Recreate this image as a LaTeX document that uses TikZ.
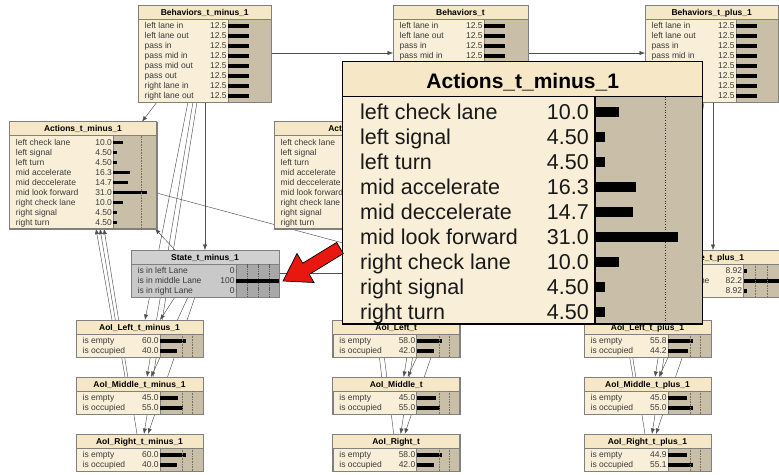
\documentclass[tikz,border=0pt]{standalone}
\usepackage{fontspec}
\setmainfont{Liberation Sans}
\usetikzlibrary{arrows.meta,calc}
\pgfdeclarelayer{bg}
\pgfdeclarelayer{paper}
\pgfsetlayers{paper,bg,main}
\definecolor{titlebg}{HTML}{F6E8C6}
\definecolor{bodybg}{HTML}{F9EFD9}
\definecolor{barbg}{HTML}{C9BFA8}
\definecolor{boxline}{HTML}{808080}
\definecolor{txt}{HTML}{3A3A3A}
\definecolor{stitle}{HTML}{D0D0D0}
\definecolor{sbody}{HTML}{C9C9C9}
\definecolor{sbar}{HTML}{A8A8A8}
\definecolor{edgecol}{HTML}{505050}
\definecolor{redarrow}{HTML}{E8170F}
\definecolor{gridcol}{HTML}{7A7060}

\newcommand\nbox[8]{%
 \pgfmathsetmacro\bh{17+10*#5}%
 \node[boxst, fill=\cB, minimum width=#4pt, minimum height=\bh pt, anchor=north west] (#1) at (#2,#3) {};
 \fill[\cR] (#2+#7,#3+14) rectangle (#2+#4,#3+\bh);
 \filldraw[fill=\cT, draw=boxline, line width=0.6pt] (#2,#3) rectangle (#2+#4,#3+14);
 \node[ttl, anchor=base] (#1-t) at (#2+#4/2,#3+10.2) {#6};
 \draw[boxline, line width=0.5pt] (#2+#7,#3+14) -- (#2+#7,#3+\bh);
 \foreach \lab/\val/\len [count=\i from 0] in {#8} {
   \node[lbl, anchor=base west] (#1-l\i) at (#2+6.5,#3+23.9+10*\i) {\lab};
   \node[lbl, anchor=base east] (#1-v\i) at (#2+#7-1.2,#3+23.9+10*\i) {\val};
   \fill[black] (#2+#7,#3+19.25+10*\i) rectangle ++(\len,3.5);
 }
 \draw[boxline, line width=0.6pt] (#2,#3) rectangle (#2+#4,#3+\bh);
}

\begin{document}
\begin{tikzpicture}[x=1pt,y=-1pt,
  boxst/.style={draw=boxline, inner sep=0, outer sep=0},
  ttl/.style={font=\bfseries\fontsize{8.5}{10}\selectfont, text=black, inner sep=0},
  lbl/.style={font=\fontsize{8.5}{10}\selectfont, text=txt, inner sep=0},
  lnk/.style={draw=edgecol, line width=0.45pt, -{Latex[length=5.5pt,width=4.2pt]}},
  gridst/.style={draw=gridcol, line width=0.5pt, dash pattern=on 0.7pt off 0.9pt},
  popttl/.style={font=\bfseries\fontsize{21}{24}\selectfont, text=black, inner sep=0},
  poplbl/.style={font=\fontsize{21.5}{24}\selectfont, text=black!90, inner sep=0}]
\useasboundingbox (0,0) rectangle (779,474);
\clip (0,0) rectangle (779,474);
\begin{pgfonlayer}{paper}
\fill[white] (0,0) rectangle (779,474);
\end{pgfonlayer}

\def\cT{titlebg}\def\cB{bodybg}\def\cR{barbg}
% Behaviors
\nbox{Beha}{138}{5}{133.5}{8}{Behaviors\_t\_minus\_1}{90}{left lane in/12.5/21, left lane out/12.5/21, pass in/12.5/21, pass mid in/12.5/21, pass mid out/12.5/21, pass out/12.5/21, right lane in/12.5/21, right lane out/12.5/21}
\nbox{Behb}{393}{5}{135}{8}{Behaviors\_t}{91}{left lane in/12.5/21, left lane out/12.5/21, pass in/12.5/21, pass mid in/12.5/21}
\nbox{Behc}{645}{5}{133.5}{8}{Behaviors\_t\_plus\_1}{91}{left lane in/12.5/21, left lane out/12.5/21, pass in/12.5/21, pass mid in/12.5/21, pass mid out/12.5/21, pass out/12.5/21, right lane in/12.5/21, right lane out/12.5/21}
% Actions
\nbox{Acta}{9.3}{121.7}{147.4}{9}{Actions\_t\_minus\_1}{104}{left check lane/10.0/10, left signal/4.50/3.3, left turn/4.50/3.3, mid accelerate/16.3/16.7, mid deccelerate/14.7/15, mid look forward/31.0/33.4, right check lane/10.0/10, right signal/4.50/3.3, right turn/4.50/3.3}
\draw[gridst] (141.7,135.7) -- (141.7,228.7);
\nbox{Actb}{274}{121.7}{147.4}{9}{Actions\_t}{104}{left check lane//0, left signal//0, left turn//0, mid accelerate//0, mid deccelerate//0, mid look forward//0, right check lane//0, right signal//0, right turn//0}
% State t+1
\nbox{Stc}{639}{250}{150}{3}{State\_t\_plus\_1}{104.5}{is in left Lane/8.92/3, is in middle Lane/82.2/60, is in right Lane/8.92/3}
\foreach \g in {755,767.3} \draw[gridst] (\g,264) -- (\g,297);
% State t-1 (gray)
\def\cT{stitle}\def\cB{sbody}\def\cR{sbar}
\nbox{Sta}{131}{250}{148}{3}{State\_t\_minus\_1}{105}{is in left Lane/0/0, is in middle Lane/100/43, is in right Lane/0/0}
\foreach \g in {246.7,258.3,269.3} \draw[gray!70!black, line width=0.4pt, dash pattern=on 1.5pt off 0.8pt] (\g,264) -- (\g,297);
\fill[black] (236,279.2) rectangle (279,282.8);
% AoI boxes
\def\cT{titlebg}\def\cB{bodybg}\def\cR{barbg}
\nbox{AolLa}{76}{320}{127}{2}{AoI\_Left\_t\_minus\_1}{84}{is empty/60.0/26, is occupied/40.0/17}
\nbox{AolMa}{76}{377}{127}{2}{AoI\_Middle\_t\_minus\_1}{84}{is empty/45.0/18, is occupied/55.0/23}
\nbox{AolRa}{76}{434}{127}{2}{AoI\_Right\_t\_minus\_1}{84}{is empty/60.0/26, is occupied/40.0/17}
\nbox{AolLb}{332.7}{320}{127}{2}{AoI\_Left\_t}{84}{is empty/58.0/25, is occupied/42.0/17}
\nbox{AolMb}{332.7}{377}{127}{2}{AoI\_Middle\_t}{84}{is empty/45.0/19, is occupied/55.0/23}
\nbox{AolRb}{332.7}{434}{127}{2}{AoI\_Right\_t}{84}{is empty/58.0/25, is occupied/42.0/17}
\nbox{AolLc}{584}{320}{127}{2}{AoI\_Left\_t\_plus\_1}{84}{is empty/55.8/25, is occupied/44.2/20}
\nbox{AolMc}{584}{377}{127}{2}{AoI\_Middle\_t\_plus\_1}{84}{is empty/45.0/19, is occupied/55.0/25}
\nbox{AolRc}{584}{434}{127}{2}{AoI\_Right\_t\_plus\_1}{84}{is empty/44.9/19, is occupied/55.1/25}
\foreach \L in {76,332.7,584}{
  \foreach \T in {320,377,434}{
    \draw[gridst] (\L+106.7,\T+14) -- (\L+106.7,\T+37);
    \draw[gridst] (\L+116.7,\T+14) -- (\L+116.7,\T+37);
  }
}

% hidden anchor points (under the magnified view)
\coordinate (SWa) at (Sta.south west);
\coordinate (SWb) at (387.7,297);
\coordinate (SWc) at (Stc.south west);
\coordinate (ASWa) at (Acta.south west);
\coordinate (ASWb) at (Actb.south west);
\coordinate (ASWc) at (517.3,228.7);
\coordinate (StT) at (440,269);
\coordinate (StTw) at (387.7,273);

\begin{pgfonlayer}{bg}
\foreach \s in {a,b,c}{
  \draw[lnk] ($(Beh\s.south west)+(50,0)$) -- ($(AolL\s.north west)+(69,0)$);
  \draw[lnk] ($(Beh\s.south west)+(55,0)$) -- ($(AolM\s.north west)+(71,0)$);
  \draw[lnk] ($(Beh\s.south west)+(59,0)$) -- ($(AolR\s.north west)+(68,0)$);
  \draw[lnk] ($(SW\s)+(44,0)$) -- ($(AolL\s.north west)+(84,0)$);
  \draw[lnk] ($(SW\s)+(57,0)$) -- ($(AolM\s.north west)+(75,0)$);
  \draw[lnk] ($(SW\s)+(64,0)$) -- ($(AolR\s.north west)+(72,0)$);
  \draw[lnk] ($(AolL\s.north west)+(36,0)$) -- ($(ASW\s)+(86.7,0)$);
  \draw[lnk] ($(AolM\s.north west)+(49,0)$) -- ($(ASW\s)+(90.7,0)$);
  \draw[lnk] ($(AolR\s.north west)+(61,0)$) -- ($(ASW\s)+(94.7,0)$);
}
\draw[lnk] ($(Beha.south west)+(19,0)$) -- ($(Acta.north west)+(132.7,0)$);
\draw[lnk] ($(Beha.south west)+(67,0)$) -- ($(Sta.north west)+(74,0)$);
\draw[lnk] ($(Behc.south west)+(68,0)$) -- ($(Stc.north west)+(74,0)$);
\draw[lnk] ($(Sta.north west)+(44,0)$) -- ($(Acta.south west)+(145.7,0)$);
\draw[lnk] ($(Beha.north east)+(0,48)$) -- ($(Behb.north west)+(0,48)$);
\draw[lnk] ($(Behb.north east)+(0,48)$) -- ($(Behc.north west)+(0,48)$);
\draw[lnk] ($(Acta.north east)+(0,71.3)$) -- (StT);
\draw[lnk] ($(Sta.north east)+(0,23)$) -- (StTw);
\end{pgfonlayer}

% magnified view of Actions_t_minus_1
\node[draw=black, line width=1.4pt, fill=bodybg, minimum width=360pt, minimum height=262.3pt, anchor=north west, inner sep=0, outer sep=0] (pop) at (342.7,61.7) {};
\fill[barbg] (595,96.5) rectangle (702.7,324);
\fill[titlebg] (342.7,61.7) rectangle (702.7,96.5);
\draw[gridst, draw=black!80, line width=0.8pt, dash pattern=on 1pt off 1.6pt] (665,96.5) -- (665,324);
\draw[line width=1.2pt] (342.7,96.5) -- (702.7,96.5);
\draw[line width=1.2pt] (595,96.5) -- (595,324);
\node[popttl, anchor=base] (pop-t) at (522.7,88) {Actions\_t\_minus\_1};
\foreach \lab/\val/\len [count=\i from 0] in {left check lane/10.0/24.3, left signal/4.50/10, left turn/4.50/10, mid accelerate/16.3/41, mid deccelerate/14.7/38.3, mid look forward/31.0/83, right check lane/10.0/24.3, right signal/4.50/10, right turn/4.50/10}{
  \node[poplbl, anchor=base west] (pop-l\i) at (360,119+25*\i) {\lab};
  \node[poplbl, anchor=base east] (pop-v\i) at (589,119+25*\i) {\val};
  \fill[black] (595,106.7+25*\i) rectangle ++(\len,10);
}
\draw[line width=1.4pt] (342.7,61.7) rectangle (702.7,324);

% red pointer arrow
\filldraw[fill=redarrow, draw=black, line width=0.7pt, line join=miter] (283,281) -- (314.0,282.5) -- (309.3,274.4) -- (343.3,253.6) -- (336.7,242.4) -- (302.7,263.2) -- (297.0,253.5) -- cycle;
\end{tikzpicture}
\end{document}
